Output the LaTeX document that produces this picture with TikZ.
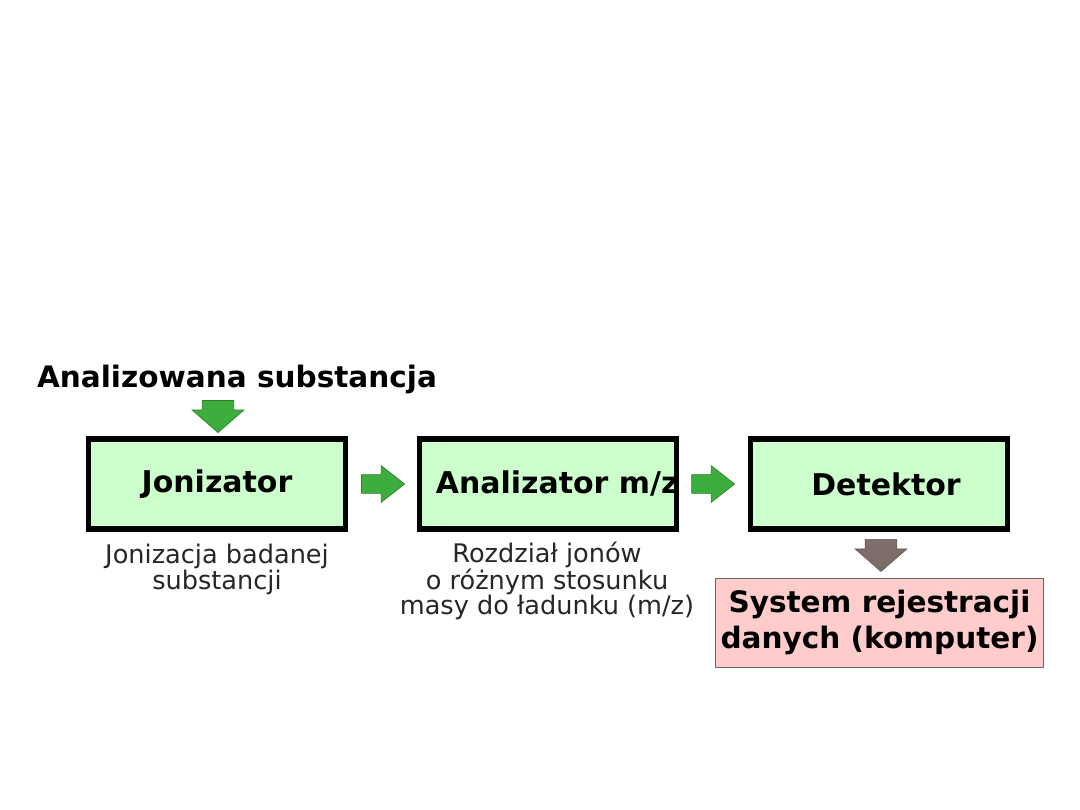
\documentclass[tikz,border=0pt]{standalone}
\usepackage{fontspec}
\setmainfont{DejaVu Sans}
\usetikzlibrary{shapes.arrows,positioning,calc}
\definecolor{StageGreen}{HTML}{CCFFCC}
\definecolor{OutputPink}{HTML}{FFCCCC}
\definecolor{FlowGreen}{HTML}{3DAE3D}
\definecolor{FlowGreenDark}{HTML}{2E822E}
\definecolor{FlowBrown}{HTML}{7E6E69}

\begin{document}
\begin{tikzpicture}[
    x=0.025cm, y=-0.025cm,
    stage/.style={draw=black, fill=StageGreen, line width=4pt, minimum width=6.42cm, minimum height=2.26cm, inner sep=0pt, font=\fontsize{21.3}{26}\selectfont\bfseries},
    note/.style={align=center, font=\fontsize{18.2}{18.4}\selectfont, text=black!85},
    flow/.style={single arrow, fill=FlowGreen, draw=FlowGreenDark, line width=0.5pt, inner xsep=0pt, inner ysep=0.225cm, single arrow head extend=0.225cm, single arrow tip angle=76, minimum height=1.075cm},
    drop/.style={flow, rotate=-90, inner ysep=0.3875cm, single arrow head extend=0.25cm, single arrow tip angle=98, minimum height=0.8cm}
]
  \useasboundingbox[fill=white] (0,0) rectangle (1080,810);

  % wejscie
  \node[font=\fontsize{21}{26}\selectfont\bfseries] (n_sub) at (237,379) {Analizowana substancja};

  % etapy spektrometru
  \node[stage] (n_jon) at (217,484) {Jonizator};
  \node[stage] (n_anal) at (548,484) {\makebox[0pt]{\hspace*{13pt}Analizator m/z}};
  \node[stage] (n_det) at (879,484) {\makebox[0pt]{\hspace*{10pt}Detektor}};

  % strzalki
  \node[drop, anchor=tip] (f_in) at ($(n_jon.north)+(1,-3)$) {};
  \node[flow, anchor=tail] (f_1) at ($(n_jon.east)+(13,0)$) {};
  \node[flow, anchor=tail] (f_2) at ($(n_anal.east)+(12,0)$) {};
  \node[drop, fill=FlowBrown, draw=FlowBrown!80!black, anchor=tail] (f_out) at ($(n_det.south)+(2,7)$) {};

  % opisy
  \node[note] (d_jon) at (217,569) {Jonizacja badanej\\substancji};
  \node[note, font=\fontsize{18.2}{17.7}\selectfont] (d_anal) at (547,581) {Rozdział jonów\\o różnym stosunku\\masy do ładunku (m/z)};

  % rejestracja
  \node[draw=gray!80!black, fill=OutputPink, line width=0.6pt, minimum width=8.175cm, minimum height=2.225cm, align=center, font=\fontsize{21}{26}\selectfont\bfseries] (n_pc) at (879.5,622.5) {System rejestracji\\danych (komputer)};

\end{tikzpicture}
\end{document}
